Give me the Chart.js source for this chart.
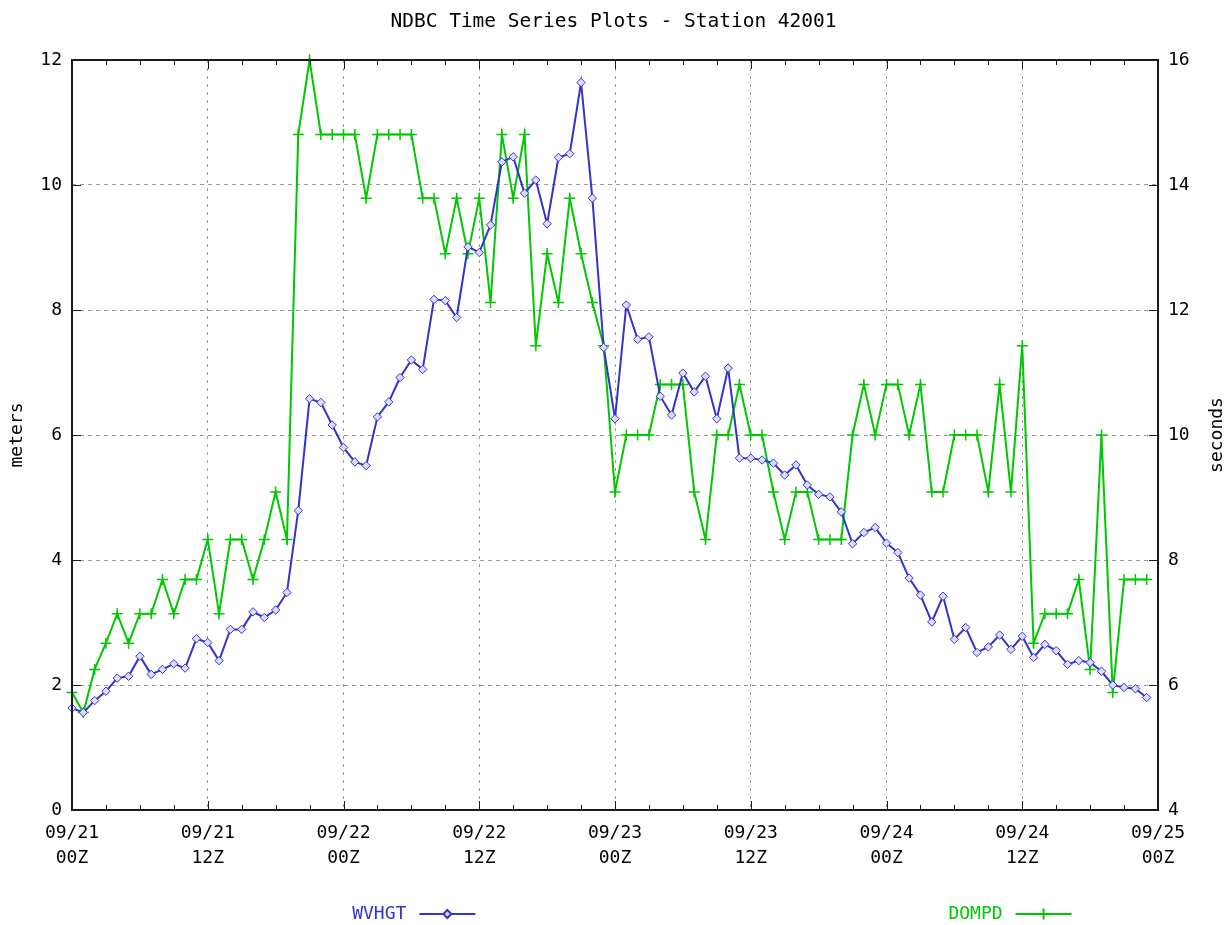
<!DOCTYPE html>
<html>
<head>
<meta charset="utf-8">
<title>NDBC Time Series Plots - Station 42001</title>
<script src="https://cdn.jsdelivr.net/npm/chart.js@4.4.1/dist/chart.umd.min.js"></script>
<style>
  html, body { margin: 0; padding: 0; background: #ffffff; }
  #wrap { width: 1227px; height: 925px; }
</style>
</head>
<body>
<div id="wrap"><canvas id="chart" width="1227" height="925"></canvas></div>
<script>
// Hourly observations, hours after 09/21 00Z
const hours = Array.from({ length: 96 }, (_, i) => i);

// Significant wave height (m)
const waveHeight = [
  1.63, 1.56, 1.75, 1.90, 2.11, 2.14, 2.46, 2.17, 2.25, 2.34,
  2.27, 2.74, 2.68, 2.39, 2.89, 2.89, 3.17, 3.08, 3.20, 3.48,
  4.79, 6.58, 6.52, 6.16, 5.80, 5.57, 5.51, 6.29, 6.53, 6.92,
  7.20, 7.05, 8.17, 8.15, 7.88, 9.01, 8.92, 9.36, 10.37, 10.45,
  9.87, 10.08, 9.38, 10.44, 10.50, 11.64, 9.79, 7.40, 6.26, 8.08,
  7.53, 7.57, 6.62, 6.32, 6.99, 6.69, 6.94, 6.26, 7.07, 5.63,
  5.63, 5.60, 5.55, 5.36, 5.52, 5.20, 5.05, 5.01, 4.77, 4.26,
  4.44, 4.52, 4.27, 4.12, 3.71, 3.44, 3.01, 3.42, 2.73, 2.92,
  2.52, 2.61, 2.80, 2.57, 2.78, 2.44, 2.65, 2.55, 2.33, 2.39,
  2.36, 2.22, 2.00, 1.96, 1.94, 1.80
];

// Dominant wave period (s)
const domPeriod = [
  5.88, 5.56, 6.25, 6.67, 7.14, 6.67, 7.14, 7.14, 7.69, 7.14,
  7.69, 7.69, 8.33, 7.14, 8.33, 8.33, 7.69, 8.33, 9.09, 8.33,
  14.81, 16.00, 14.81, 14.81, 14.81, 14.81, 13.79, 14.81, 14.81, 14.81,
  14.81, 13.79, 13.79, 12.90, 13.79, 12.90, 13.79, 12.12, 14.81, 13.79,
  14.81, 11.43, 12.90, 12.12, 13.79, 12.90, 12.12, 11.43, 9.09, 10.00,
  10.00, 10.00, 10.81, 10.81, 10.81, 9.09, 8.33, 10.00, 10.00, 10.81,
  10.00, 10.00, 9.09, 8.33, 9.09, 9.09, 8.33, 8.33, 8.33, 10.00,
  10.81, 10.00, 10.81, 10.81, 10.00, 10.81, 9.09, 9.09, 10.00, 10.00,
  10.00, 9.09, 10.81, 9.09, 11.43, 6.67, 7.14, 7.14, 7.14, 7.69,
  6.25, 10.00, 5.88, 7.69, 7.69, 7.69
];

// Time axis labels, one per 12-hour step
const tickDays  = ['09/21', '09/21', '09/22', '09/22', '09/23', '09/23', '09/24', '09/24', '09/25'];
const tickHours = ['00Z', '12Z', '00Z', '12Z', '00Z', '12Z', '00Z', '12Z', '00Z'];

const seriesNames = ['WVHGT', 'DOMPD'];
const axisTitles = ['meters', 'seconds'];

const BLUE = '#3333cc';
const GREEN = '#00c800';
const FONT = "'DejaVu Sans Mono', 'Liberation Mono', monospace";

Chart.defaults.font.family = FONT;
Chart.defaults.font.size = 18;
Chart.defaults.color = '#000000';

// Frame, inward tick marks, rotated axis titles and the bottom legend
const frameAndLegend = {
  id: 'frameAndLegend',
  afterDraw(chart) {
    const { ctx, chartArea: a, scales } = chart;
    const xs = scales.x, yl = scales.y, yr = scales.y2;
    ctx.save();

    ctx.strokeStyle = '#1a1a1a';
    ctx.lineWidth = 1;
    ctx.beginPath();
    for (let h = xs.min; h <= xs.max; h += 3) {
      const px = Math.round(xs.getPixelForValue(h)) + 0.5;
      const len = h % 12 === 0 ? 9 : 5;
      ctx.moveTo(px, a.bottom); ctx.lineTo(px, a.bottom - len);
      ctx.moveTo(px, a.top); ctx.lineTo(px, a.top + len);
    }
    yl.ticks.forEach(t => {
      const py = Math.round(yl.getPixelForValue(t.value)) + 0.5;
      ctx.moveTo(a.left, py); ctx.lineTo(a.left + 9, py);
    });
    yr.ticks.forEach(t => {
      const py = Math.round(yr.getPixelForValue(t.value)) + 0.5;
      ctx.moveTo(a.right, py); ctx.lineTo(a.right - 9, py);
    });
    ctx.stroke();

    ctx.lineWidth = 2;
    ctx.strokeRect(a.left, a.top, a.right - a.left, a.bottom - a.top);

    // Axis titles, both reading bottom to top
    ctx.font = '18px ' + FONT;
    ctx.fillStyle = '#000000';
    ctx.textAlign = 'center';
    ctx.textBaseline = 'middle';
    const midY = (a.top + a.bottom) / 2;
    [[axisTitles[0], 17], [axisTitles[1], chart.width - 10]].forEach(([txt, cx]) => {
      ctx.save();
      ctx.translate(cx, midY);
      ctx.rotate(-Math.PI / 2);
      ctx.fillText(txt, 0, 0);
      ctx.restore();
    });

    // Legend: name, then a line sample with the series marker
    const legendY = a.bottom + 104;
    const items = [
      { name: seriesNames[0], color: BLUE, at: 0.258, style: 'rectRot', radius: 4, bw: 1 },
      { name: seriesNames[1], color: GREEN, at: 0.807, style: 'cross', radius: 5.5, bw: 1.5 }
    ];
    ctx.textAlign = 'left';
    items.forEach(it => {
      const x0 = a.left + (a.right - a.left) * it.at;
      ctx.fillStyle = it.color;
      ctx.fillText(it.name, x0, legendY);
      const w = ctx.measureText(it.name).width;
      const l0 = x0 + w + 13, l1 = l0 + 56;
      ctx.strokeStyle = it.color;
      ctx.lineWidth = 2;
      ctx.beginPath();
      ctx.moveTo(l0, legendY); ctx.lineTo(l1, legendY);
      ctx.stroke();
      ctx.fillStyle = '#dcdcff';
      Chart.helpers.drawPoint(ctx, { pointStyle: it.style, radius: it.radius, borderWidth: it.bw, rotation: 0 }, (l0 + l1) / 2, legendY);
    });

    ctx.restore();
  }
};

new Chart(document.getElementById('chart'), {
  type: 'line',
  data: {
    labels: hours,
    datasets: [
      {
        label: seriesNames[0],
        data: waveHeight,
        yAxisID: 'y',
        borderColor: BLUE,
        borderWidth: 2,
        pointStyle: 'rectRot',
        pointRadius: 4.2,
        pointBorderWidth: 1,
        pointBorderColor: BLUE,
        pointBackgroundColor: '#dcdcff',
        tension: 0,
        clip: 8
      },
      {
        label: seriesNames[1],
        data: domPeriod,
        yAxisID: 'y2',
        borderColor: GREEN,
        borderWidth: 2,
        pointStyle: 'cross',
        pointRadius: 5.5,
        pointBorderWidth: 1.5,
        pointBorderColor: GREEN,
        pointBackgroundColor: GREEN,
        tension: 0,
        clip: 8
      }
    ]
  },
  options: {
    responsive: false,
    animation: false,
    devicePixelRatio: 1,
    layout: { padding: 0 },
    plugins: {
      legend: { display: false },
      tooltip: { enabled: false },
      title: {
        display: true,
        text: 'NDBC Time Series Plots - Station 42001',
        font: { size: 19.5, weight: 'normal', lineHeight: 1.2 },
        color: '#000000',
        padding: { top: 10, bottom: 26.6 }
      }
    },
    scales: {
      x: {
        type: 'linear',
        min: 0,
        max: 96,
        ticks: {
          stepSize: 12,
          autoSkip: false,
          maxRotation: 0,
          padding: 11,
          font: { size: 18, lineHeight: 1.38 },
          callback: v => [tickDays[v / 12], tickHours[v / 12]]
        },
        grid: { color: '#9a9a9a', lineWidth: 1, drawTicks: false },
        border: { display: false, dash: [3, 5] },
        afterFit: s => { s.height = 115; }
      },
      y: {
        position: 'left',
        min: 0,
        max: 12,
        ticks: { stepSize: 2, padding: 10, font: { size: 18 } },
        grid: { color: '#9a9a9a', lineWidth: 1, drawTicks: false },
        border: { display: false, dash: [4, 4] },
        afterFit: s => { s.width = 72; }
      },
      y2: {
        position: 'right',
        min: 4,
        max: 16,
        ticks: { stepSize: 2, padding: 10, font: { size: 18 } },
        grid: { drawOnChartArea: false, drawTicks: false },
        border: { display: false },
        afterFit: s => { s.width = 69; }
      }
    }
  },
  plugins: [frameAndLegend]
});
</script>
</body>
</html>
